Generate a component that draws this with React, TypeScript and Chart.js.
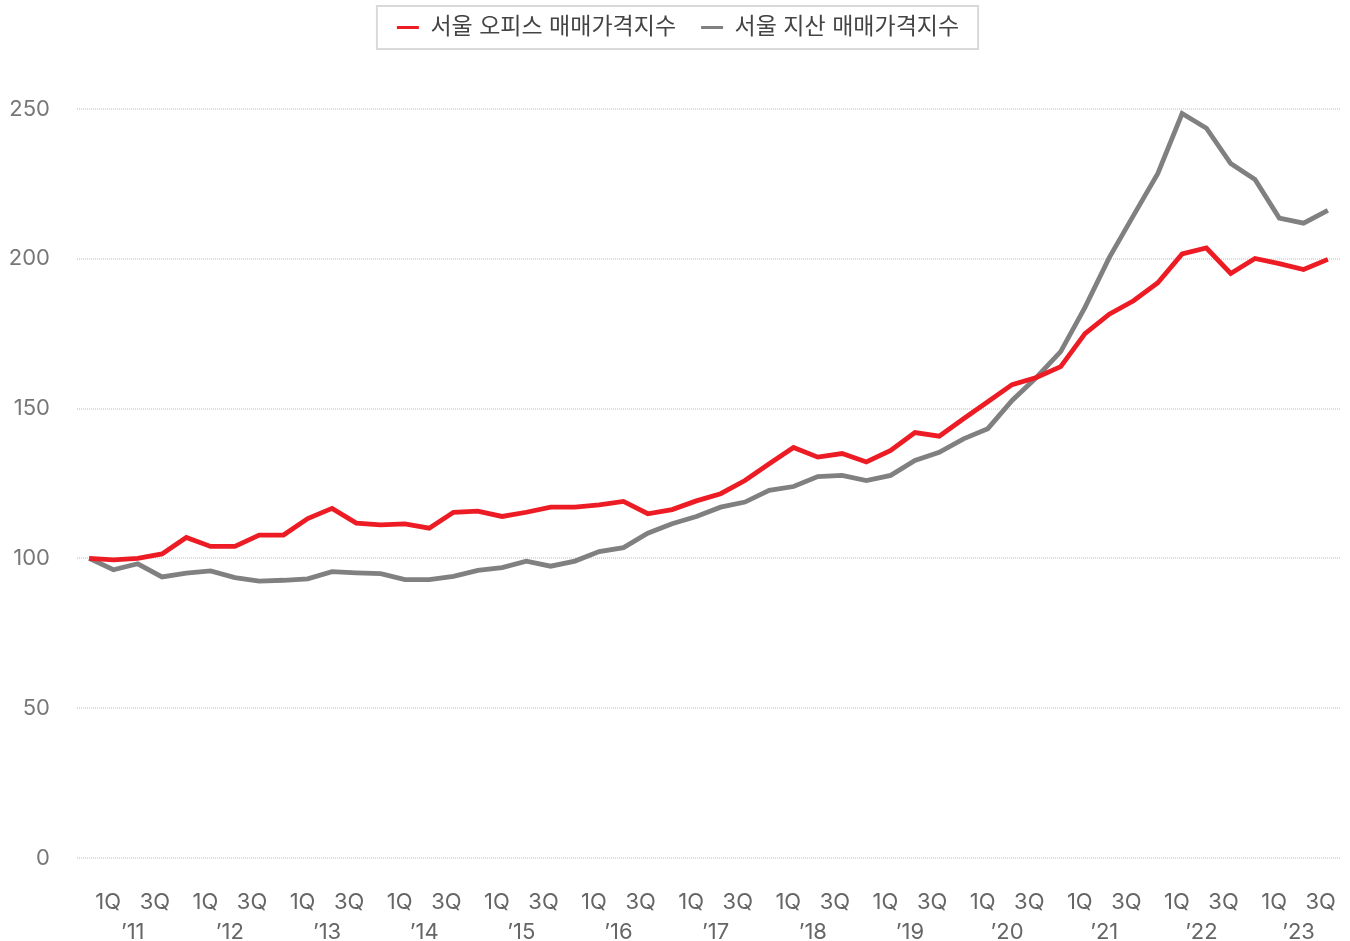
import React, { useEffect, useRef } from 'react';
import { Chart, registerables } from 'chart.js';

Chart.register(...registerables);

// ---- data ----
const years = ['11', '12', '13', '14', '15', '16', '17', '18', '19', '20', '21', '22', '23'];
const quarterNames = ['1Q', '2Q', '3Q', '4Q'];
const quarters: string[] = ["4Q'10"].concat(
  years.flatMap((y) => quarterNames.map((q) => `${q}'${y}`))
).slice(0, 52);

const seriesNames = ['서울 오피스 매매가격지수', '서울 지산 매매가격지수'];

const officeIndex = [
  100, 99.5, 100, 101.5, 107, 104, 104, 107.8, 107.8, 113.3,
  116.7, 111.8, 111.2, 111.5, 110.1, 115.4, 115.8, 114, 115.4, 117.1,
  117.1, 117.9, 119, 114.9, 116.3, 119.2, 121.6, 126, 131.6, 137,
  133.8, 135, 132.2, 136, 142, 140.8, 146.6, 152.3, 158, 160.4,
  164, 175, 181.5, 186, 192, 201.6, 203.6, 195.1, 200.1, 198.4,
  196.4, 199.8,
];

const assetIndex = [
  100, 96.2, 98.2, 93.8, 95.1, 95.8, 93.6, 92.4, 92.7, 93.2,
  95.6, 95.2, 94.9, 92.9, 92.9, 94, 96, 96.9, 99.1, 97.4,
  99.1, 102.3, 103.6, 108.4, 111.6, 114, 117.1, 118.8, 122.7, 124,
  127.3, 127.7, 126, 127.7, 132.7, 135.4, 139.9, 143.3, 152.7, 160.4,
  169, 183.8, 200.4, 214.5, 228.5, 248.5, 243.6, 231.8, 226.5, 213.6,
  211.9, 216.2,
];

const quarterTickText = '1Q   3Q';
const yMin = 0;
const yMax = 250;
const yStep = 50;

const seriesColors = ['#ED1C24', '#808080'];

const legendBox = {
  id: 'legendBox',
  beforeInit(chart: any) {
    const lg = chart.legend;
    if (lg) {
      const orig = lg.fit;
      lg.fit = function () {
        orig.call(this);
        this.height = 118;
      };
    }
  },
  afterLayout(chart: any) {
    const lg = chart.legend;
    if (lg) {
      lg.left += 8;
      lg.right -= 2;
    }
  },
  afterDraw(chart: any) {
    const lg = chart.legend;
    if (!lg || !lg.legendHitBoxes || !lg.legendHitBoxes.length) return;
    const boxes = lg.legendHitBoxes;
    let left = Infinity, right = -Infinity, top = Infinity, bottom = -Infinity;
    boxes.forEach((b: any) => {
      left = Math.min(left, b.left);
      right = Math.max(right, b.left + b.width);
      top = Math.min(top, b.top);
      bottom = Math.max(bottom, b.top + b.height);
    });
    const cy = (top + bottom) / 2;
    const ctx = chart.ctx;
    ctx.save();
    ctx.strokeStyle = '#d9d9d9';
    ctx.lineWidth = 2;
    ctx.strokeRect(left - 20, cy - 21.5, right - left + 39, 43);
    ctx.restore();
  },
};

export default function App() {
  const ref = useRef<HTMLCanvasElement | null>(null);

  useEffect(() => {
    document.body.style.margin = '0';
    document.body.style.overflow = 'hidden';
    const canvas = ref.current;
    if (!canvas) return;
    Chart.defaults.font.family = "Inter, 'Noto Sans CJK KR', 'Noto Sans', sans-serif";
    const chart = new Chart(canvas, {
      type: 'line',
      data: {
        labels: quarters,
        datasets: [
          {
            label: seriesNames[0],
            data: officeIndex,
            borderColor: seriesColors[0],
            backgroundColor: seriesColors[0],
            borderWidth: 4.8,
            pointRadius: 0,
            tension: 0,
            order: 1,
          },
          {
            label: seriesNames[1],
            data: assetIndex,
            borderColor: seriesColors[1],
            backgroundColor: seriesColors[1],
            borderWidth: 4.8,
            pointRadius: 0,
            tension: 0,
            order: 2,
          },
        ],
      },
      options: {
        responsive: false,
        animation: false,
        layout: { padding: { left: 10, right: 10, top: -9, bottom: 0 } },
        plugins: {
          tooltip: { enabled: false },
          legend: {
            display: true,
            position: 'top',
            labels: {
              usePointStyle: true,
              pointStyle: 'line',
              pointStyleWidth: 22,
              padding: 25,
              color: '#444444',
              font: { size: 23 },
              generateLabels: (chart: any) =>
                Chart.defaults.plugins.legend.labels
                  .generateLabels(chart)
                  .map((l: any) => ({ ...l, lineWidth: 3 })),
            },
          },
        },
        scales: {
          x: {
            type: 'category',
            offset: true,
            grid: { display: false, drawTicks: false },
            border: { display: false },
            afterFit: (scale: any) => {
              scale.height = 83;
              scale.paddingLeft = 0;
              scale.paddingRight = 0;
            },
            ticks: {
              autoSkip: false,
              maxRotation: 0,
              minRotation: 0,
              padding: 29,
              labelOffset: -5,
              color: '#666666',
              font: { size: 22, lineHeight: 30 / 22 },
              callback: (_v: any, idx: number) => {
                const q = quarters[idx];
                if (q && q.startsWith('2Q')) {
                  return [quarterTickText, '\u2019' + q.slice(3)];
                }
                return '';
              },
            },
          },
          y: {
            min: yMin,
            max: yMax,
            afterFit: (scale: any) => {
              scale.width = 67;
            },
            grid: {
              color: '#dcdcdc',
              lineWidth: 2,
              drawTicks: false,
            },
            border: { display: false, dash: [1, 1] },
            ticks: {
              stepSize: yStep,
              padding: 27,
              color: '#777777',
              font: { size: 22 },
            },
          },
        },
      },
      plugins: [legendBox],
    });
    return () => chart.destroy();
  }, []);

  return (
    <div style={{ width: 1350, height: 941, overflow: 'hidden' }}>
      <canvas ref={ref} width={1350} height={941} style={{ display: 'block' }} />
    </div>
  );
}
